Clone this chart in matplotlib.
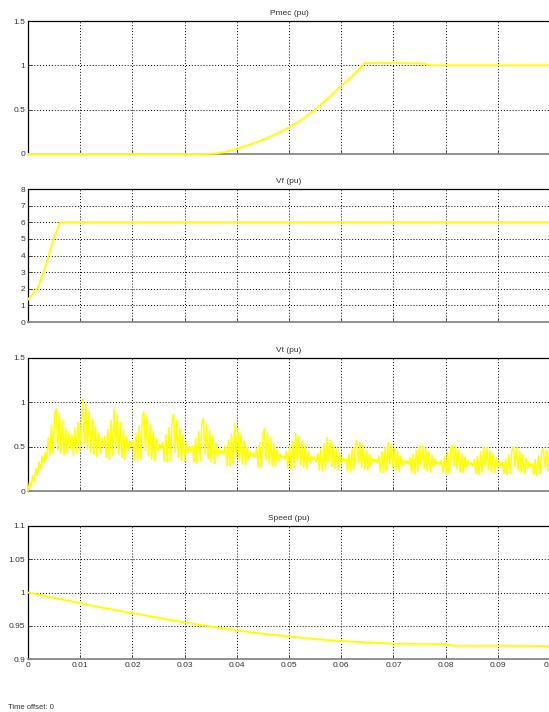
import numpy as np
import matplotlib
matplotlib.use("Agg")
import matplotlib.pyplot as plt

plt.rcParams['font.family'] = ['Liberation Sans', 'DejaVu Sans']

# ---------------- data ----------------
titles = ["Pmec (pu)", "Vf (pu)", "Vt (pu)", "Speed (pu)"]
x_ticks = [0, 0.01, 0.02, 0.03, 0.04, 0.05, 0.06, 0.07, 0.08, 0.09, 0.1]
x_tick_labels = ["0", "0.01", "0.02", "0.03", "0.04", "0.05", "0.06", "0.07", "0.08", "0.09", "0.1"]

pmec_t = [0, 0.034, 0.036, 0.038, 0.040, 0.0425, 0.045, 0.0475, 0.050, 0.0525, 0.055, 0.0575,
          0.060, 0.062, 0.0645, 0.070, 0.0755, 0.077, 0.100]
pmec_v = [0, 0, 0.006, 0.025, 0.06, 0.105, 0.16, 0.225, 0.30, 0.39, 0.50, 0.63,
          0.77, 0.87, 1.025, 1.025, 1.022, 1.0, 1.0]
pmec_yticks = [0, 0.5, 1, 1.5]
pmec_ylabels = ["0", "0.5", "1", "1.5"]

vf_t = [0, 0.001, 0.002, 0.0029, 0.0039, 0.0049, 0.0062, 0.100]
vf_v = [1.35, 1.72, 2.12, 2.93, 3.93, 5.03, 6.0, 6.0]
vf_yticks = [0, 1, 2, 3, 4, 5, 6, 7, 8]
vf_ylabels = ["0", "1", "2", "3", "4", "5", "6", "7", "8"]

vt_dt = 0.0003
vt_v = [
    0.00, 0.10, 0.04, 0.18, 0.10, 0.26, 0.17, 0.33, 0.24, 0.40, 0.30, 0.44, 0.36, 0.60, 0.40, 0.75, 0.42, 0.86, 0.93,
    0.46, 0.88, 0.42, 0.80, 0.40, 0.72, 0.42, 0.66, 0.48, 0.64, 0.40, 0.72, 0.42, 0.78, 0.45, 0.76, 1.04,
    0.52, 0.98, 0.47, 0.90, 0.43, 0.82, 0.41, 0.74, 0.38, 0.66, 0.42, 0.60, 0.50, 0.62, 0.37, 0.70, 0.35, 0.80, 0.39, 0.93,
    0.47, 0.86, 0.41, 0.78, 0.37, 0.70, 0.35, 0.62, 0.46, 0.56, 0.50, 0.58, 0.34, 0.66, 0.33, 0.74, 0.35, 0.83, 0.90,
    0.45, 0.84, 0.39, 0.76, 0.35, 0.68, 0.34, 0.60, 0.44, 0.53, 0.48, 0.55, 0.33, 0.64, 0.32, 0.72, 0.34, 0.80, 0.87,
    0.43, 0.80, 0.37, 0.72, 0.34, 0.64, 0.33, 0.56, 0.42, 0.50, 0.45, 0.52, 0.32, 0.60, 0.31, 0.68, 0.33, 0.76, 0.82,
    0.41, 0.76, 0.35, 0.69, 0.32, 0.62, 0.31, 0.55, 0.38, 0.48, 0.42, 0.46, 0.40, 0.52, 0.29, 0.58, 0.28, 0.65, 0.30, 0.76,
    0.39, 0.71, 0.33, 0.64, 0.30, 0.57, 0.29, 0.50, 0.36, 0.44, 0.39, 0.43, 0.38, 0.49, 0.27, 0.55, 0.26, 0.63, 0.71,
    0.35, 0.66, 0.30, 0.60, 0.28, 0.54, 0.27, 0.47, 0.33, 0.42, 0.37, 0.40, 0.35, 0.45, 0.25, 0.51, 0.24, 0.57, 0.26, 0.65,
    0.33, 0.62, 0.29, 0.57, 0.26, 0.51, 0.25, 0.45, 0.31, 0.40, 0.35, 0.38, 0.33, 0.43, 0.23, 0.48, 0.22, 0.54, 0.25, 0.61,
    0.32, 0.58, 0.27, 0.53, 0.25, 0.48, 0.24, 0.43, 0.30, 0.38, 0.34, 0.37, 0.22, 0.42, 0.21, 0.48, 0.23, 0.53, 0.575,
    0.31, 0.56, 0.26, 0.52, 0.24, 0.47, 0.23, 0.42, 0.29, 0.37, 0.33, 0.36, 0.31, 0.40, 0.21, 0.45, 0.20, 0.50, 0.23, 0.555,
    0.30, 0.53, 0.25, 0.49, 0.23, 0.45, 0.22, 0.40, 0.28, 0.35, 0.31, 0.34, 0.30, 0.38, 0.20, 0.42, 0.19, 0.47, 0.22, 0.52,
    0.29, 0.52, 0.25, 0.49, 0.22, 0.45, 0.21, 0.41, 0.27, 0.36, 0.30, 0.33, 0.29, 0.35, 0.20, 0.39, 0.19, 0.44, 0.19, 0.48, 0.52,
    0.28, 0.51, 0.24, 0.47, 0.21, 0.43, 0.20, 0.39, 0.26, 0.35, 0.29, 0.32, 0.28, 0.36, 0.19, 0.40, 0.18, 0.45, 0.21, 0.50,
    0.27, 0.50, 0.23, 0.46, 0.21, 0.42, 0.20, 0.38, 0.26, 0.34, 0.29, 0.32, 0.19, 0.37, 0.18, 0.41, 0.19, 0.46, 0.50,
    0.27, 0.49, 0.23, 0.45, 0.20, 0.41, 0.19, 0.37, 0.25, 0.33, 0.28, 0.31, 0.18, 0.36, 0.17, 0.40, 0.19, 0.44, 0.48,
    0.26, 0.47, 0.22, 0.44,
]
vt_yticks = [0, 0.5, 1, 1.5]
vt_ylabels = ["0", "0.5", "1", "1.5"]

speed_t = [0, 0.005, 0.010, 0.015, 0.020, 0.025, 0.030, 0.035, 0.040, 0.045, 0.050, 0.055,
           0.060, 0.065, 0.070, 0.075, 0.080, 0.0815, 0.090, 0.100]
speed_v = [1.0, 0.992, 0.984, 0.976, 0.969, 0.962, 0.955, 0.949, 0.943, 0.938, 0.934, 0.930,
           0.927, 0.925, 0.923, 0.923, 0.9225, 0.920, 0.920, 0.9195]
speed_yticks = [0.9, 0.95, 1, 1.05, 1.1]
speed_ylabels = ["0.9", "0.95", "1", "1.05", "1.1"]

vt_t = np.arange(len(vt_v)) * vt_dt

# ---------------- figure ----------------
W, H = 549, 712
fig = plt.figure(figsize=(W / 100, H / 100), dpi=100)
fig.patch.set_facecolor("white")

left_px, right_px = 28, 550
axes_px = [(21, 154), (189, 322), (358, 491), (526, 659)]  # (top, bottom)

series = [
    (pmec_t, pmec_v, (0, 1.5), pmec_yticks, pmec_ylabels, 1.4),
    (vf_t, vf_v, (0, 8), vf_yticks, vf_ylabels, 1.4),
    (vt_t, vt_v, (0, 1.5), vt_yticks, vt_ylabels, 1.1),
    (speed_t, speed_v, (0.9, 1.1), speed_yticks, speed_ylabels, 1.4),
]

yellow = "#ffff00"
for i, ((top, bot), (tx, vy, ylim, yt, yl, lw)) in enumerate(zip(axes_px, series)):
    ax = fig.add_axes([left_px / W, 1 - bot / H, (right_px - left_px) / W, (bot - top) / H])
    ax.set_xlim(0, 0.1)
    ax.set_ylim(*ylim)
    ax.set_xticks(x_ticks)
    ax.set_yticks(yt)
    ax.set_yticklabels(yl)
    if i == 3:
        ax.set_xticklabels(x_tick_labels)
    else:
        ax.set_xticklabels([])
    ax.tick_params(direction="in", length=3, width=0.6, labelsize=6,
                   labelcolor="#333333", colors="#333333", pad=2)
    ax.grid(True, color="black", linestyle=(0, (1, 2)), linewidth=0.7)
    for s in ["top", "left", "right"]:
        ax.spines[s].set_color("black")
        ax.spines[s].set_linewidth(0.9)
    ax.spines["bottom"].set_color("#888888")
    ax.spines["bottom"].set_linewidth(1.3)
    ax.plot(tx, vy, color=yellow, lw=lw, zorder=4, clip_on=False,
            solid_joinstyle="miter")
    ax.set_title(titles[i], fontsize=6, color="#333333", pad=4)
    ax.set_facecolor("white")

fig.text(8 / W, 1 - 709 / H, "Time offset: 0", fontsize=5.5, color="#333333",
         ha="left", va="baseline")

fig.savefig("out.png", dpi=100, facecolor="white")
